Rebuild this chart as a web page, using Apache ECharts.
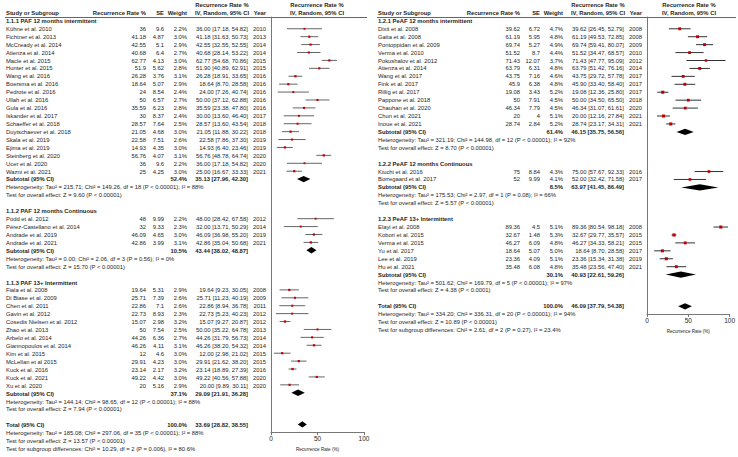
<!DOCTYPE html>
<html>
<head>
<meta charset="utf-8">
<script src="https://cdn.jsdelivr.net/npm/echarts@6.0.0/dist/echarts.min.js"></script>
<style>
html, body { margin: 0; padding: 0; background: #fff; }
#chart { width: 738px; height: 457px; }
</style>
</head>
<body>
<div id="chart"></div>
<script>
// ---- PAF (left panel) ----
const pafTitles = ["1.1.1 PAF 12 months intermittent", "1.1.2 PAF 12 months Continuous", "1.1.3 PAF 13+ Intermittent"];
const pafSizes = [19, 4, 13];
const pafStudies = [
  "Kühne et al. 2010", "Fichtner et al. 2013", "McCready et al. 2014", "Atienza et al. 2014", "Macle et al. 2015",
  "Hunter et al. 2015", "Wang et al. 2016", "Boersma et al. 2016", "Pedrote et al. 2016", "Ullah et al. 2016",
  "Gula et al. 2016", "Iskander et al. 2017", "Schaeffer et al. 2018", "Duytschaever et al. 2018", "Skala et al. 2019",
  "Ejima et al. 2019", "Steinberg et al. 2020", "Ucer et al. 2020", "Wazni et al. 2021",
  "Podd et al. 2012", "Pérez-Castellano et al. 2014", "Andrade et al. 2019", "Andrade et al. 2021",
  "Fiala et al. 2008", "Di Biase et al. 2009", "Chen et al. 2011", "Gavin et al. 2012", "Cosedis Nielsen et al. 2012",
  "Zhao et al. 2013", "Arbelo et al. 2014", "Giannopoulos et al. 2014", "Kim et al. 2015", "McLellan et al 2015",
  "Kuck et al. 2016", "Kuck et al. 2021", "Xu et al. 2020"
];
const pafRate = [36, 41.18, 42.55, 40.68, 62.77, 51.9, 26.28, 18.64, 24, 50, 35.59, 30, 28.57, 21.05, 22.58, 14.93, 56.76, 36, 25,
  48, 32, 46.09, 42.86,
  19.64, 25.71, 22.86, 22.73, 15.07, 50, 44.26, 46.26, 12, 29.91, 23.14, 49.22, 20];
const pafSE = [9.6, 4.87, 5.1, 6.4, 4.13, 5.62, 3.76, 5.07, 8.54, 6.57, 6.23, 8.37, 7.64, 4.68, 7.51, 4.35, 4.07, 9.6, 4.25,
  9.99, 9.33, 4.65, 3.99,
  5.31, 7.39, 7.1, 8.93, 2.98, 7.54, 6.36, 4.11, 4.6, 4.23, 2.17, 4.42, 5.16];
const pafWeight = [2.2, 3.0, 2.9, 2.7, 3.0, 2.8, 3.1, 2.9, 2.4, 2.7, 2.8, 2.4, 2.5, 3.0, 2.6, 3.0, 3.1, 2.2, 3.0,
  2.2, 2.3, 3.0, 3.1,
  2.9, 2.6, 2.6, 2.3, 3.2, 2.5, 2.7, 3.1, 3.0, 3.0, 3.2, 3.0, 2.9];
const pafLow = [17.18, 31.63, 32.55, 28.14, 54.68, 40.89, 18.91, 8.70, 7.26, 37.12, 23.38, 13.60, 13.60, 11.88, 7.86, 6.40, 48.78, 17.18, 16.67,
  28.42, 13.71, 36.98, 35.04,
  9.23, 11.23, 8.94, 5.23, 9.27, 35.22, 31.79, 38.20, 2.98, 21.62, 18.89, 40.56, 9.89];
const pafHigh = [54.82, 50.73, 52.55, 53.22, 70.86, 62.91, 33.65, 28.58, 40.74, 62.88, 47.80, 46.40, 43.54, 30.22, 37.30, 23.46, 64.74, 54.82, 33.33,
  67.58, 50.29, 55.20, 50.68,
  30.05, 40.19, 36.78, 40.23, 20.87, 64.78, 56.73, 54.32, 21.02, 38.20, 27.39, 57.88, 30.11];
const pafYear = [2010, 2013, 2014, 2014, 2015, 2015, 2016, 2016, 2016, 2016, 2016, 2017, 2018, 2018, 2019, 2019, 2020, 2020, 2021,
  2012, 2014, 2019, 2021,
  2008, 2009, 2011, 2012, 2012, 2013, 2014, 2014, 2015, 2015, 2016, 2020, 2020];
const pafSubWeight = [52.4, 10.5, 37.1];
const pafSubRate = [35.13, 43.44, 29.09];
const pafSubLow = [27.96, 38.02, 21.91];
const pafSubHigh = [42.30, 48.87, 36.28];
const pafHet = [
  "Heterogeneity: Tau² = 215.71; Chi² = 149.26, df = 18 (P < 0.00001); I² = 88%",
  "Heterogeneity: Tau² = 0.00; Chi² = 2.06, df = 3 (P = 0.56); I² = 0%",
  "Heterogeneity: Tau² = 144.14; Chi² = 98.65, df = 12 (P < 0.00001); I² = 88%"
];
const pafEffect = [
  "Test for overall effect: Z = 9.60 (P < 0.00001)",
  "Test for overall effect: Z = 15.70 (P < 0.00001)",
  "Test for overall effect: Z = 7.94 (P < 0.00001)"
];
const pafTotal = [33.69, 28.82, 38.55];
const pafTotalNotes = [
  "Heterogeneity: Tau² = 185.08; Chi² = 297.06, df = 35 (P < 0.00001); I² = 88%",
  "Test for overall effect: Z = 13.57 (P < 0.00001)",
  "Test for subgroup differences: Chi² = 10.29, df = 2 (P = 0.006), I² = 80.6%"
];

// ---- PeAF (right panel) ----
const peafTitles = ["1.2.1 PeAF 12 months intermittent", "1.2.2 PeAF 12 months Continuous", "1.2.3 PeAF 13+ Intermittent"];
const peafSizes = [13, 2, 6];
const peafStudies = [
  "Dixit et al. 2008", "Gaita et al. 2008", "Pontoppidan et al. 2009", "Verma et al. 2010", "Pokushalov et al. 2012",
  "Atienza et al. 2014", "Wang et al. 2017", "Fink et al. 2017", "Rillig et al. 2017", "Pappone et al. 2018",
  "Chauhan et al. 2020", "Chun et al. 2021", "Inoue et al. 2021",
  "Kiuchi et al. 2016", "Borregaard et al. 2017",
  "Elayi et al. 2008", "Kobori et al. 2015", "Verma et al. 2015", "Yu et al. 2017", "Lee et al. 2019", "Hu et al. 2021"
];
const peafRate = [39.62, 61.19, 69.74, 51.52, 71.43, 63.79, 43.75, 45.9, 19.08, 50, 46.34, 20, 28.74,
  75, 52,
  89.36, 32.67, 46.27, 18.64, 23.36, 35.48];
const peafSE = [6.72, 5.95, 5.27, 8.7, 12.07, 6.31, 7.16, 6.38, 3.43, 7.91, 7.79, 4, 2.84,
  8.84, 9.99,
  4.5, 1.48, 6.09, 5.07, 4.09, 6.08];
const peafWeight = [4.7, 4.8, 4.9, 4.4, 3.7, 4.8, 4.6, 4.8, 5.2, 4.5, 4.5, 5.1, 5.2,
  4.3, 4.1,
  5.1, 5.3, 4.8, 5.0, 5.1, 4.8];
const peafLow = [26.45, 49.53, 59.41, 34.47, 47.77, 51.42, 29.72, 33.40, 12.36, 34.50, 31.07, 12.16, 23.17,
  57.67, 32.42,
  80.54, 29.77, 34.33, 8.70, 15.34, 23.56];
const peafHigh = [52.79, 72.85, 80.07, 68.57, 95.09, 76.16, 57.78, 58.40, 25.80, 65.50, 61.61, 27.84, 34.31,
  92.33, 71.58,
  98.18, 35.57, 58.21, 28.58, 31.38, 47.40];
const peafYear = [2008, 2008, 2009, 2010, 2012, 2014, 2017, 2017, 2017, 2018, 2020, 2021, 2021,
  2016, 2017,
  2008, 2015, 2015, 2017, 2019, 2021];
const peafSubWeight = [61.4, 8.5, 30.1];
const peafSubRate = [46.15, 63.97, 40.93];
const peafSubLow = [35.75, 41.45, 22.61];
const peafSubHigh = [56.56, 86.49, 59.26];
const peafHet = [
  "Heterogeneity: Tau² = 321.19; Chi² = 144.98, df = 12 (P < 0.00001); I² = 92%",
  "Heterogeneity: Tau² = 175.53; Chi² = 2.97, df = 1 (P = 0.08); I² = 66%",
  "Heterogeneity: Tau² = 501.62; Chi² = 169.79, df = 5 (P < 0.00001); I² = 97%"
];
const peafEffect = [
  "Test for overall effect: Z = 8.70 (P < 0.00001)",
  "Test for overall effect: Z = 5.57 (P < 0.00001)",
  "Test for overall effect: Z = 4.38 (P < 0.0001)"
];
const peafTotal = [46.09, 37.79, 54.38];
const peafTotalNotes = [
  "Heterogeneity: Tau² = 334.20; Chi² = 336.31, df = 20 (P < 0.00001); I² = 94%",
  "Test for overall effect: Z = 10.89 (P < 0.00001)",
  "Test for subgroup differences: Chi² = 2.61, df = 2 (P = 0.27), I² = 23.4%"
];

const axisTicks = [0, 50, 100];

// ---- layout ----
const ROW0 = 5, ROWH = 7.93;
const rowY = i => ROW0 + ROWH * i;
const FONT = '"Liberation Sans", Arial, sans-serif';
const FS = 5.85;
const INK = "#1e1e1e";

function txt(x, i, s, align, bold) {
  align = align || "left";
  return {
    type: "text", x: x, y: rowY(i), silent: true,
    style: {
      text: s, fontSize: FS, fontFamily: FONT, fontWeight: bold ? "bold" : "normal", fill: INK,
      align: align, textAlign: align, verticalAlign: "middle", textVerticalAlign: "middle"
    }
  };
}

const ci = (m, l, h) => m.toFixed(2) + " [" + l.toFixed(2) + ", " + h.toFixed(2) + "]";

function buildPanel(d, c) {
  const g = [], marks = [];
  g.push(txt(c.ciHead, 0, "Recurrence Rate %", "center", true));
  g.push(txt(c.forest, 0, "Recurrence Rate %", "center", true));
  g.push(txt(c.name, 1, "Study or Subgroup", "left", true));
  g.push(txt(c.rate, 1, "Recurrence Rate %", "right", true));
  g.push(txt(c.se, 1, "SE", "right", true));
  g.push(txt(c.weight, 1, "Weight", "right", true));
  g.push(txt(c.ciHead, 1, "IV, Random, 95% CI", "center", true));
  g.push(txt(c.year, 1, "Year", "right", true));
  g.push(txt(c.forest, 1, "IV, Random, 95% CI", "center", true));
  g.push({
    type: "line", silent: true,
    shape: { x1: c.name - 1, y1: c.rule, x2: c.end, y2: c.rule },
    style: { stroke: "#666", lineWidth: 1 }
  });
  let row = 2, k = 0;
  d.titles.forEach((t, gi) => {
    g.push(txt(c.name, row, t, "left", true));
    row++;
    for (let j = 0; j < d.sizes[gi]; j++, k++, row++) {
      g.push(txt(c.name, row, d.studies[k]));
      g.push(txt(c.rate, row, String(d.rate[k]), "right"));
      g.push(txt(c.se, row, String(d.se[k]), "right"));
      g.push(txt(c.weight, row, d.weight[k].toFixed(1) + "%", "right"));
      g.push(txt(c.ci, row, ci(d.rate[k], d.low[k], d.high[k]), "right"));
      g.push(txt(c.year, row, String(d.year[k]), "right"));
      marks.push([d.rate[k], d.low[k], d.high[k], row, d.weight[k], 0]);
    }
    g.push(txt(c.name, row, "Subtotal (95% CI)", "left", true));
    g.push(txt(c.weight, row, d.subWeight[gi].toFixed(1) + "%", "right", true));
    g.push(txt(c.ci, row, ci(d.subRate[gi], d.subLow[gi], d.subHigh[gi]), "right", true));
    marks.push([d.subRate[gi], d.subLow[gi], d.subHigh[gi], row, d.subWeight[gi], 1]);
    g.push(txt(c.name, row + 1, d.het[gi]));
    g.push(txt(c.name, row + 2, d.effect[gi]));
    row += 4;
  });
  g.push(txt(c.name, row, "Total (95% CI)", "left", true));
  g.push(txt(c.weight, row, "100.0%", "right", true));
  g.push(txt(c.ci, row, ci(d.total[0], d.total[1], d.total[2]), "right", true));
  marks.push([d.total[0], d.total[1], d.total[2], row, 100, 1]);
  d.notes.forEach((n, i) => g.push(txt(c.name, row + 1 + i, n)));
  return { graphics: g, marks: marks };
}

const left = buildPanel({
  titles: pafTitles, sizes: pafSizes, studies: pafStudies, rate: pafRate, se: pafSE, weight: pafWeight,
  low: pafLow, high: pafHigh, year: pafYear, subWeight: pafSubWeight, subRate: pafSubRate,
  subLow: pafSubLow, subHigh: pafSubHigh, het: pafHet, effect: pafEffect, total: pafTotal, notes: pafTotalNotes
}, { name: 6, rate: 146, se: 164, weight: 187, ci: 248, ciHead: 222, year: 266, forest: 317, rule: 17.5, end: 367 });

const right = buildPanel({
  titles: peafTitles, sizes: peafSizes, studies: peafStudies, rate: peafRate, se: peafSE, weight: peafWeight,
  low: peafLow, high: peafHigh, year: peafYear, subWeight: peafSubWeight, subRate: peafSubRate,
  subLow: peafSubLow, subHigh: peafSubHigh, het: peafHet, effect: peafEffect, total: peafTotal, notes: peafTotalNotes
}, { name: 378, rate: 520, se: 540, weight: 563, ci: 624, ciHead: 598, year: 642, forest: 689, rule: 17.5, end: 736 });

function renderForest(lineColor) {
  return function (params, api) {
    const est = api.value(0), lo = api.value(1), hi = api.value(2), row = api.value(3), w = api.value(4), kind = api.value(5);
    const a = api.coord([lo, row]), b = api.coord([hi, row]), m = api.coord([est, row]);
    if (kind === 1) {
      return {
        type: "polygon",
        shape: { points: [[a[0], a[1]], [m[0], m[1] - 3.2], [b[0], b[1]], [m[0], m[1] + 3.2]] },
        style: { fill: "#000" }
      };
    }
    const s = 1 + w * 0.4;
    return {
      type: "group",
      children: [
        { type: "line", shape: { x1: a[0], y1: a[1], x2: b[0], y2: b[1] }, style: { stroke: lineColor, lineWidth: 1 } },
        { type: "rect", shape: { x: m[0] - s / 2, y: m[1] - s / 2, width: s, height: s }, style: { fill: "#c00000" } }
      ]
    };
  };
}

function xAxisFor(gi) {
  return {
    gridIndex: gi, type: "value", min: axisTicks[0], max: axisTicks[axisTicks.length - 1], interval: 50,
    position: "bottom",
    axisLine: { show: true, onZero: false, lineStyle: { color: "#777", width: 1 } },
    axisTick: { show: true, length: 3, lineStyle: { color: "#777" } },
    axisLabel: { fontSize: 6.5, color: INK, margin: 3, fontFamily: FONT },
    splitLine: { show: false },
    name: "Recurrence Rate (%)", nameLocation: "middle", nameGap: 14,
    nameTextStyle: { fontSize: 4.6, color: INK, fontFamily: FONT }
  };
}
function yAxisFor(gi, bottom) {
  return {
    gridIndex: gi, type: "value", inverse: true,
    min: (17 - ROW0) / ROWH, max: (bottom - ROW0) / ROWH,
    axisLine: { show: true, onZero: false, lineStyle: { color: "#777", width: 1 } },
    axisTick: { show: false }, axisLabel: { show: false }, splitLine: { show: false }
  };
}

const chart = echarts.init(document.getElementById("chart"), null, { renderer: "svg" });
chart.setOption({
  animation: false,
  backgroundColor: "#fff",
  grid: [
    { left: 271, width: 93, top: 17, height: 416 },
    { left: 647, width: 84, top: 17, height: 297 }
  ],
  xAxis: [xAxisFor(0), xAxisFor(1)],
  yAxis: [yAxisFor(0, 433), yAxisFor(1, 314)],
  series: [
    { type: "custom", xAxisIndex: 0, yAxisIndex: 0, data: left.marks, encode: { x: [0, 1, 2], y: 3 }, renderItem: renderForest("#666"), silent: true },
    { type: "custom", xAxisIndex: 1, yAxisIndex: 1, data: right.marks, encode: { x: [0, 1, 2], y: 3 }, renderItem: renderForest("#333"), silent: true }
  ],
  graphic: left.graphics.concat(right.graphics)
});
</script>
</body>
</html>
